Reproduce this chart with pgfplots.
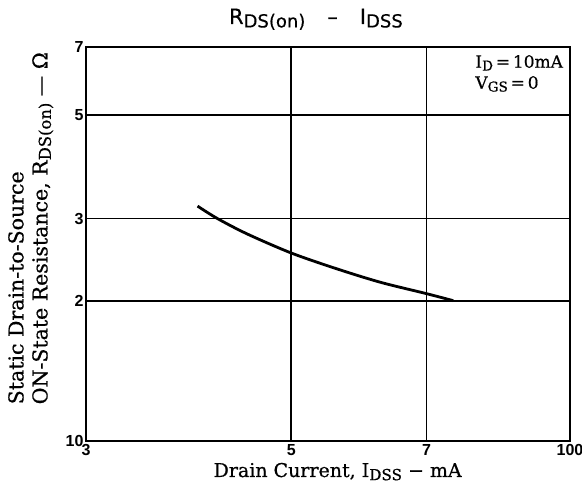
\documentclass[border=0pt]{standalone}
\usepackage{pgfplots}
\pgfplotsset{compat=1.18}
\usepackage{graphicx}
\usepackage{fontspec}
\setmainfont{DejaVu Serif}[FakeBold=0.6]
\setsansfont{Liberation Sans}
\newfontfamily\titlefont{DejaVu Sans}[FakeBold=0.4]
\usetikzlibrary{calc}
\newcommand{\sub}[1]{\raisebox{-0.32ex}{\scalebox{0.8}{#1}}}
\begin{document}
\begin{tikzpicture}
\begin{axis}[
  name=ax,
  xmode=log, ymode=log,
  scale only axis, width=484pt, height=394pt,
  xmin=3, xmax=10, ymin=1, ymax=7,
  xtick={3,5,7,10}, xticklabels={3,5,7,100},
  ytick={1,2,3,5,7}, yticklabels={10,2,3,5,7},
  minor xtick={}, minor ytick={},
  grid=major,
  major grid style={black, line width=1.8pt},
  axis line style={line width=2.2pt},
  tick style={draw=none},
  ticklabel style={font=\sffamily\bfseries\fontsize{16}{16}\selectfont},
  yticklabel style={xshift=1pt},
  xlabel={Drain Current, I\sub{DSS} − mA},
  xlabel style={font=\fontsize{19}{20}\selectfont, at={(axis description cs:0.52,0)}, anchor=base, yshift=-36pt},
  ylabel={Static Drain-to-Source\\ON-State Resistance, R\sub{DS(on)} — Ω},
  ylabel style={font=\fontsize{20.5}{24}\selectfont, align=left, at={(axis description cs:-0.114,0.54)}, anchor=center},
  title={\titlefont R\raisebox{-0.3ex}{\fontsize{18}{18}\selectfont DS(on)}\hspace{22pt}–\hspace{22pt}I\raisebox{-0.3ex}{\fontsize{18}{18}\selectfont DSS}},
  title style={font=\fontsize{21}{22}\selectfont, at={(axis description cs:0.475,1)}, anchor=base, yshift=17pt},
  clip=false,
]
\addplot[black, line width=2.8pt, smooth] coordinates {
  (3.96,3.19) (4.16,3.0) (4.48,2.78) (5,2.53) (5.6,2.34) (6.24,2.19) (7,2.07) (7.48,2.0)
};
\node[anchor=north east, align=left, font=\fontsize{17}{21}\selectfont, inner sep=2pt]
  at (rel axis cs:0.99,0.985) {I\sub{D}\,=\,10mA\\V\sub{GS}\,=\,0};
\end{axis}
\pgfresetboundingbox
\useasboundingbox ($(ax.south west)+(-86pt,-50pt)$) rectangle ($(ax.north east)+(12pt,47pt)$);
\end{tikzpicture}
\end{document}
